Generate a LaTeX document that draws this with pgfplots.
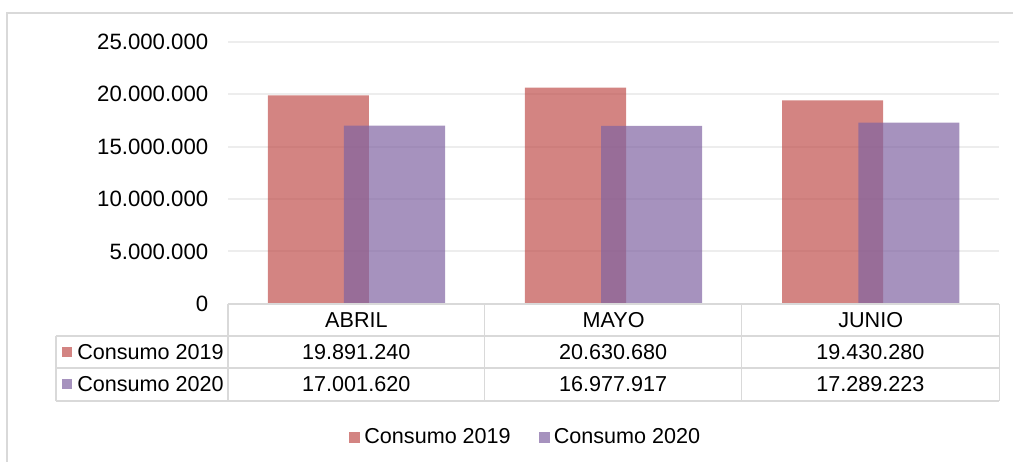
\documentclass[border=0pt]{standalone}
\usepackage{fontspec}
\setmainfont{Liberation Sans}
\usepackage{pgfplots}
\pgfplotsset{compat=1.18}
\definecolor{rojo}{HTML}{C0504D}
\definecolor{lila}{HTML}{8064A2}
\definecolor{linea}{HTML}{D9D9D9}
\definecolor{rejilla}{HTML}{EDEDED}
\pgfplotsset{sq/.style={legend image code/.code={\fill[#1] (0pt,-2.75pt) rectangle (5.5pt,2.75pt);}}}

\begin{document}
\fontsize{10.8}{13}\selectfont
\begin{tikzpicture}
\begin{axis}[
  scale only axis, width=386pt, height=131pt,
  xmin=-0.5, xmax=2.5, ymin=0, ymax=25000000,
  ytick={0,5000000,10000000,15000000,20000000,25000000},
  scaled y ticks=false,
  /pgf/number format/assume math mode=true,
  yticklabel style={/pgf/number format/fixed, /pgf/number format/1000 sep={.},
    anchor=east, xshift=-6pt, font=\fontsize{11.1}{13}\selectfont},
  xtick={0,1,2}, xticklabels={ABRIL,MAYO,JUNIO},
  xticklabel style={anchor=center, yshift=-8pt},
  major tick length=0pt,
  axis line style={draw=none},
  ymajorgrids, grid style={rejilla, line width=1pt},
  ybar, bar width=0.393,
  legend columns=2,
  legend style={at={(0.3875,-0.51)}, anchor=center, draw=none, fill=none,
    /tikz/every even column/.append style={column sep=12pt}},
]
% Consumo 2019
\addplot[sq, fill=rojo, fill opacity=0.7, draw=none, bar shift=-0.148] coordinates {
  (0,19891240) (1,20630680) (2,19430280)};
% Consumo 2020
\addplot[sq, fill=lila, fill opacity=0.7, draw=none, bar shift=0.148] coordinates {
  (0,17001620) (1,16977917) (2,17289223)};
\legend{Consumo 2019, Consumo 2020}
\end{axis}

% tabla de datos (coordenadas en pixeles)
\begin{scope}[x=0.5pt, y=-0.5pt, shift={(-114pt,152pt)}]
  \path (0,0) rectangle (1014,462);
  \draw[linea, line width=0.7pt] (7,462) -- (7,13) -- (1014,13);
  \begin{scope}[linea, line width=0.8pt]
    \draw (228,304) -- (1000,304);
    \draw (56,336) -- (1000,336);
    \draw (56,368) -- (1000,368);
    \draw (56,401) -- (1000,401);
    \draw (56,336) -- (56,401);
    \foreach \xx in {228,485,742,1000} \draw (\xx,304) -- (\xx,401);
  \end{scope}
  \fill[rojo, opacity=0.7] (62,347) rectangle (72,357);
  \fill[lila, opacity=0.7] (62,379) rectangle (72,389);
  \node[anchor=west, inner sep=0pt] at (77,352) {Consumo 2019};
  \node[anchor=west, inner sep=0pt] at (77,384.5) {Consumo 2020};
  \node at (356.5,352) {19.891.240};
  \node at (613.5,352) {20.630.680};
  \node at (871,352) {19.430.280};
  \node at (356.5,384.5) {17.001.620};
  \node at (613.5,384.5) {16.977.917};
  \node at (871,384.5) {17.289.223};
\end{scope}
\end{tikzpicture}
\end{document}
